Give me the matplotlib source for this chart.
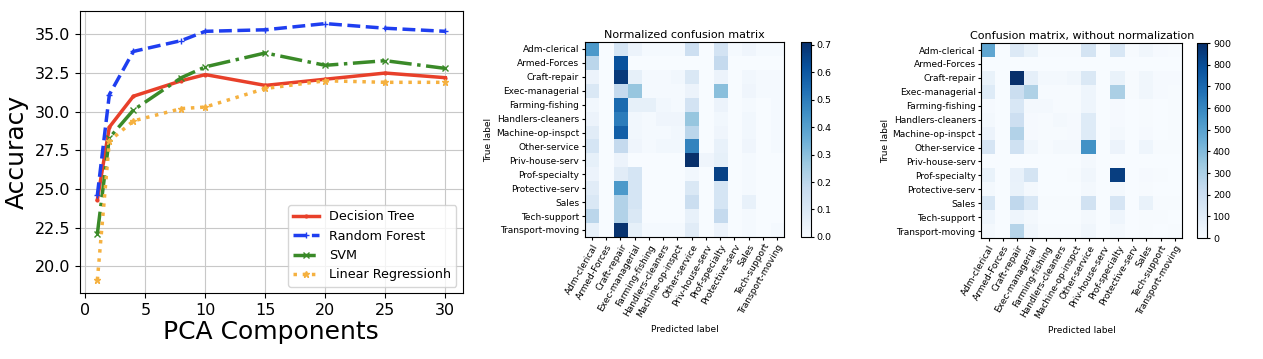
import matplotlib

matplotlib.use("Agg")

import matplotlib.pyplot as plt
import numpy as np

# PCA accuracy curves
pca_components = [1, 2, 4, 8, 10, 15, 20, 25, 30]
decision_tree = [24.3, 29.0, 31.0, 32.0, 32.4, 31.7, 32.1, 32.5, 32.2]
random_forest = [24.6, 31.1, 33.9, 34.6, 35.2, 35.3, 35.7, 35.4, 35.2]
svm = [22.1, 28.3, 30.1, 32.2, 32.9, 33.8, 33.0, 33.3, 32.8]
linear_regression = [19.1, 28.1, 29.4, 30.2, 30.3, 31.5, 32.0, 31.9, 31.9]

classes = [
    "Adm-clerical", "Armed-Forces", "Craft-repair", "Exec-managerial",
    "Farming-fishing", "Handlers-cleaners", "Machine-op-inspct", "Other-service",
    "Priv-house-serv", "Prof-specialty", "Protective-serv", "Sales",
    "Tech-support", "Transport-moving",
]

# rows = true label, cols = predicted label
cm_normalized = [
    [0.42, 0.00, 0.12, 0.04, 0.01, 0.01, 0.01, 0.15, 0.00, 0.13, 0.01, 0.03, 0.01, 0.01],
    [0.20, 0.00, 0.62, 0.00, 0.00, 0.00, 0.00, 0.00, 0.00, 0.18, 0.00, 0.00, 0.00, 0.00],
    [0.04, 0.00, 0.68, 0.06, 0.01, 0.01, 0.02, 0.10, 0.00, 0.04, 0.00, 0.02, 0.01, 0.01],
    [0.10, 0.00, 0.18, 0.28, 0.01, 0.01, 0.01, 0.04, 0.00, 0.30, 0.00, 0.03, 0.01, 0.01],
    [0.02, 0.00, 0.55, 0.06, 0.06, 0.02, 0.01, 0.13, 0.00, 0.04, 0.00, 0.01, 0.00, 0.01],
    [0.04, 0.00, 0.50, 0.02, 0.01, 0.03, 0.03, 0.28, 0.00, 0.02, 0.00, 0.02, 0.00, 0.01],
    [0.08, 0.00, 0.58, 0.02, 0.01, 0.01, 0.02, 0.20, 0.00, 0.03, 0.00, 0.02, 0.00, 0.01],
    [0.12, 0.00, 0.18, 0.03, 0.01, 0.02, 0.02, 0.48, 0.00, 0.05, 0.00, 0.03, 0.00, 0.01],
    [0.06, 0.00, 0.04, 0.00, 0.00, 0.00, 0.00, 0.71, 0.03, 0.06, 0.00, 0.01, 0.00, 0.00],
    [0.04, 0.00, 0.08, 0.12, 0.00, 0.00, 0.00, 0.02, 0.00, 0.66, 0.00, 0.01, 0.00, 0.00],
    [0.08, 0.00, 0.42, 0.12, 0.00, 0.00, 0.00, 0.10, 0.00, 0.12, 0.00, 0.01, 0.00, 0.00],
    [0.10, 0.00, 0.22, 0.12, 0.00, 0.00, 0.00, 0.16, 0.00, 0.12, 0.00, 0.05, 0.00, 0.00],
    [0.20, 0.00, 0.22, 0.10, 0.00, 0.00, 0.00, 0.05, 0.00, 0.18, 0.00, 0.01, 0.00, 0.00],
    [0.05, 0.00, 0.70, 0.06, 0.01, 0.01, 0.01, 0.08, 0.00, 0.04, 0.00, 0.01, 0.00, 0.01],
]

cm_counts = [
    [480, 0, 120, 60, 5, 5, 5, 160, 0, 140, 5, 30, 10, 5],
    [0, 0, 0, 0, 0, 0, 0, 0, 0, 0, 0, 0, 0, 0],
    [60, 0, 900, 80, 15, 15, 30, 130, 0, 60, 5, 30, 10, 10],
    [110, 0, 200, 290, 5, 5, 5, 40, 0, 300, 5, 30, 10, 5],
    [10, 0, 140, 15, 15, 5, 5, 40, 0, 10, 0, 5, 0, 5],
    [20, 0, 190, 10, 5, 15, 10, 110, 0, 10, 0, 5, 0, 5],
    [50, 0, 280, 10, 5, 5, 10, 110, 0, 15, 0, 10, 0, 5],
    [150, 0, 180, 30, 5, 15, 20, 560, 0, 50, 0, 40, 5, 5],
    [0, 0, 0, 0, 0, 0, 0, 20, 0, 0, 0, 0, 0, 0],
    [60, 0, 70, 160, 0, 0, 5, 30, 0, 850, 0, 10, 5, 0],
    [15, 0, 60, 20, 0, 0, 0, 15, 0, 20, 0, 5, 0, 0],
    [140, 0, 240, 140, 5, 5, 5, 170, 0, 150, 0, 60, 5, 5],
    [40, 0, 40, 20, 0, 0, 0, 20, 0, 40, 0, 5, 5, 0],
    [20, 0, 270, 30, 5, 5, 5, 30, 0, 15, 0, 5, 0, 5],
]

fig = plt.figure(figsize=(12.63, 3.59), dpi=100)

# --- accuracy vs PCA components ---
ax = fig.add_axes([0.0633, 0.184, 0.303, 0.786])
ax.plot(pca_components, decision_tree, color="#e8402a", linestyle="-", marker=".",
        markersize=4, linewidth=2.5, label="Decision Tree")
ax.plot(pca_components, random_forest, color="#1f3ef0", linestyle="--", marker="+",
        markersize=5, linewidth=2.5, label="Random Forest")
ax.plot(pca_components, svm, color="#3a8a28", linestyle="-.", marker="x",
        markersize=5, linewidth=2.5, label="SVM")
ax.plot(pca_components, linear_regression, color="#f5b140", linestyle=":", marker="*",
        markersize=5, linewidth=2.5, label="Linear Regressionh")
ax.grid(True, color="#c8c8c8")
ax.tick_params(labelsize=11.5)
ax.set_xlabel("PCA Components", fontsize=18, labelpad=2)
ax.set_ylabel("Accuracy", fontsize=18, labelpad=4)
ax.set_xticks([0, 5, 10, 15, 20, 25, 30])
ax.legend(loc="lower right", fontsize=9.2)


def draw_matrix(rect, cbar_rect, data, title, ticks):
    mat = np.array(data)
    ax = fig.add_axes(rect)
    im = ax.imshow(mat, cmap="Blues", interpolation="nearest", aspect="auto")
    ax.set_title(title, fontsize=8, pad=3)
    pos = np.arange(len(classes))
    ax.set_xticks(pos)
    ax.set_yticks(pos)
    ax.set_xticklabels(classes, rotation=60, ha="right", rotation_mode="anchor", fontsize=6.5)
    ax.set_yticklabels(classes, fontsize=6.5)
    ax.tick_params(length=2.5, pad=1.5)
    ax.set_ylabel("True label", fontsize=6.5, labelpad=2)
    ax.set_xlabel("Predicted label", fontsize=6.5, labelpad=4)
    cax = fig.add_axes(cbar_rect)
    cb = fig.colorbar(im, cax=cax, ticks=ticks)
    cb.ax.tick_params(labelsize=6.8, length=2.5, pad=1.5)
    cb.outline.set_linewidth(0.8)


draw_matrix([0.463, 0.340, 0.158, 0.543], [0.634, 0.340, 0.008, 0.543],
            cm_normalized, "Normalized confusion matrix",
            [0.0, 0.1, 0.2, 0.3, 0.4, 0.5, 0.6, 0.7])
draw_matrix([0.777, 0.337, 0.159, 0.543], [0.948, 0.337, 0.008, 0.543],
            cm_counts, "Confusion matrix, without normalization",
            [0, 100, 200, 300, 400, 500, 600, 700, 800, 900])

fig.savefig("out.png", dpi=100)
